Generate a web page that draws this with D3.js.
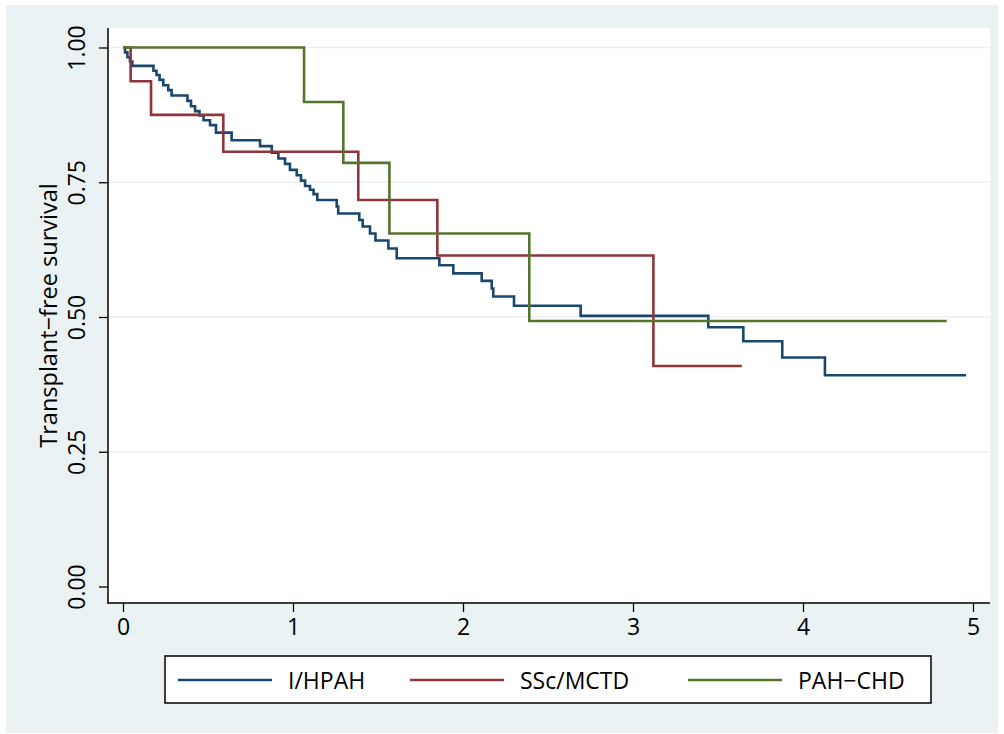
<!DOCTYPE html>
<html>
<head>
<meta charset="utf-8">
<script src="https://cdn.jsdelivr.net/npm/d3@7"></script>
<style>
	body { margin: 0; background: #ffffff; }
	text { font-family: "Open Sans", "Noto Sans", sans-serif; fill: #000000; }
</style>
</head>
<body>
<script>

//Series names and colours (Stata s2color)
let groups = ["I/HPAH", "SSc/MCTD", "PAH\u2212CHD"];
let colors = ["#1a476f", "#90353b", "#55752f"];

//I/HPAH: event times (years) and survival after each step
let ihpahTime = [0, 0.012, 0.026, 0.041, 0.055, 0.179, 0.197, 0.215, 0.237, 0.266, 0.286,
	0.379, 0.400, 0.424, 0.450, 0.474, 0.512, 0.547, 0.639, 0.806, 0.875, 0.914, 0.953,
	0.982, 1.022, 1.047, 1.071, 1.100, 1.121, 1.143, 1.257, 1.266, 1.390, 1.410, 1.453,
	1.485, 1.561, 1.610, 1.861, 1.943, 2.110, 2.169, 2.178, 2.300, 2.692, 3.443, 3.649,
	3.878, 4.129, 4.959];
let ihpahSurv = [1, 0.991, 0.982, 0.974, 0.966, 0.957, 0.949, 0.940, 0.930, 0.921, 0.911,
	0.901, 0.891, 0.882, 0.874, 0.865, 0.856, 0.842, 0.828, 0.817, 0.805, 0.794, 0.784,
	0.773, 0.763, 0.753, 0.743, 0.736, 0.728, 0.717, 0.705, 0.692, 0.680, 0.668, 0.655,
	0.642, 0.627, 0.609, 0.596, 0.581, 0.567, 0.553, 0.538, 0.521, 0.502, 0.481, 0.455,
	0.425, 0.392, 0.392];

//SSc/MCTD
let sscTime = [0, 0.045, 0.165, 0.59, 1.384, 1.849, 3.12, 3.64];
let sscSurv = [1, 0.9375, 0.875, 0.8065, 0.717, 0.614, 0.409, 0.409];

//PAH-CHD
let chdTime = [0, 1.065, 1.296, 1.567, 2.39, 4.845];
let chdSurv = [1, 0.899, 0.786, 0.655, 0.4926, 0.4926];

//Axis ticks
let xTicks = [0, 1, 2, 3, 4, 5];
let yTicks = [0, 0.25, 0.5, 0.75, 1];
let yTitle = "Transplant\u2212free survival";

window.onload = drawChart();

function drawChart(){

	let width = 1004;
	let height = 734;

	let svg = d3.select("body")
		.append("svg")
		.attr("width", width)
		.attr("height", height);

	//Outer graph region
	svg.append("rect")
		.attr("x", 6)
		.attr("y", 5)
		.attr("width", 992)
		.attr("height", 728)
		.attr("fill", "#eaf2f3");

	//Plot region edges
	let left = 108, right = 990, top = 28, bottom = 603;

	svg.append("rect")
		.attr("x", left)
		.attr("y", top)
		.attr("width", right - left)
		.attr("height", bottom - top)
		.attr("fill", "#ffffff");

	let x = d3.scaleLinear()
		.domain([0, 5])
		.range([123, 973]);

	let y = d3.scaleLinear()
		.domain([0, 1])
		.range([586.5, 47.5]);

	//Horizontal gridlines
	svg.selectAll(".grid")
		.data(yTicks.filter(function(d){ return d > 0; }))
		.enter()
		.append("line")
		.attr("class", "grid")
		.attr("x1", left + 1)
		.attr("x2", right)
		.attr("y1", function(d){ return y(d); })
		.attr("y2", function(d){ return y(d); })
		.attr("stroke", "#eaf2f3")
		.attr("stroke-width", 1.5);

	//Survival curves, drawn in the order of the legend
	let series = [
		ihpahTime.map(function(t, i){ return [t, ihpahSurv[i]]; }),
		sscTime.map(function(t, i){ return [t, sscSurv[i]]; }),
		chdTime.map(function(t, i){ return [t, chdSurv[i]]; })
	];

	let line = d3.line()
		.x(function(d){ return x(d[0]); })
		.y(function(d){ return y(d[1]); })
		.curve(d3.curveStepAfter);

	svg.selectAll(".km")
		.data(series)
		.enter()
		.append("path")
		.attr("class", "km")
		.attr("d", line)
		.attr("fill", "none")
		.attr("stroke", function(d, i){ return colors[i]; })
		.attr("stroke-width", 2.6)
		.attr("stroke-linejoin", "miter");

	//X axis
	let xAxis = d3.axisBottom(x)
		.tickValues(xTicks)
		.tickFormat(d3.format("d"))
		.tickSize(9)
		.tickPadding(7)
		.tickSizeOuter(0);

	let gx = svg.append("g")
		.attr("transform", "translate(0," + bottom + ")")
		.call(xAxis);
	gx.select(".domain").remove();
	gx.append("line")
		.attr("x1", left - 1)
		.attr("x2", right)
		.attr("stroke", "#000000")
		.attr("stroke-width", 1.5);
	gx.selectAll(".tick line").attr("stroke", "#000000").attr("stroke-width", 1.3);
	gx.selectAll(".tick text")
		.attr("font-size", 23)
		.attr("font-family", "Open Sans");

	//Y axis
	let yAxis = d3.axisLeft(y)
		.tickValues(yTicks)
		.tickFormat(d3.format(".2f"))
		.tickSize(9)
		.tickSizeOuter(0);

	let gy = svg.append("g")
		.attr("transform", "translate(" + left + ",0)")
		.call(yAxis);
	gy.select(".domain").remove();
	gy.append("line")
		.attr("y1", top)
		.attr("y2", bottom)
		.attr("stroke", "#000000")
		.attr("stroke-width", 1.5);
	gy.selectAll(".tick line").attr("stroke", "#000000").attr("stroke-width", 1.3);

	//Rotated tick labels, reading upward
	gy.selectAll(".tick text")
		.attr("x", null)
		.attr("dy", null)
		.attr("text-anchor", "middle")
		.attr("transform", "translate(-23,0) rotate(-90)")
		.attr("font-size", 23)
		.attr("font-family", "Open Sans");

	//Y axis title
	svg.append("text")
		.attr("transform", "translate(57," + ((top + bottom) / 2) + ") rotate(-90)")
		.attr("text-anchor", "middle")
		.attr("font-size", 23.5)
		.text(yTitle);

	//Legend
	let legend = svg.append("g");
	legend.append("rect")
		.attr("x", 165)
		.attr("y", 656)
		.attr("width", 766)
		.attr("height", 47)
		.attr("fill", "#ffffff")
		.attr("stroke", "#000000")
		.attr("stroke-width", 1.5);

	let keyX = [178, 410, 688];

	let keys = legend.selectAll(".key")
		.data(groups)
		.enter()
		.append("g")
		.attr("class", "key")
		.attr("transform", function(d, i){ return "translate(" + keyX[i] + ",680)"; });

	keys.append("line")
		.attr("x1", 0)
		.attr("x2", 94)
		.attr("stroke", function(d, i){ return colors[i]; })
		.attr("stroke-width", 2.6);

	keys.append("text")
		.attr("x", 110)
		.attr("y", 9)
		.attr("font-size", 23)
		.text(function(d){ return d; });
};
</script>
</body>
</html>
